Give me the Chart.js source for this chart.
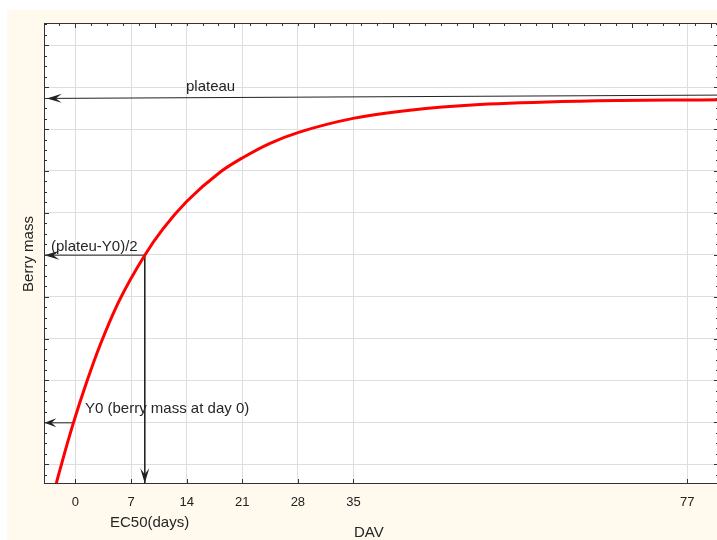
<!DOCTYPE html>
<html>
<head>
<meta charset="utf-8">
<script src="https://cdn.jsdelivr.net/npm/chart.js@4/dist/chart.umd.min.js"></script>
<style>
html, body { margin: 0; padding: 0; background: #fff; overflow: hidden; }
#wrap { position: absolute; left: 0; top: 0; width: 722px; height: 540px; }
</style>
</head>
<body>
<div id="wrap"><canvas id="chart" width="722" height="540"></canvas></div>
<script>
// x axis (DAV) labelled ticks and y gridlines
const xTicks = [0, 7, 14, 21, 28, 35, 77];
const yGrid = [1, 2, 3, 4, 5, 6, 7, 8, 9, 10, 11];

// berry mass curve
const curveX = [-2.4, -1.3, -0.25, 1.4, 3.1, 5.4, 8.73, 11, 14, 18.2, 21, 24.5, 28.1, 35.1, 42.1, 50.9, 63.5, 81];
const curveY = [0.55, 1.31, 1.99, 2.95, 3.84, 4.86, 5.99, 6.61, 7.27, 7.97, 8.31, 8.66, 8.92, 9.26, 9.45, 9.585, 9.665, 9.70];

// annotation arrows (start -> tip)
const plateauX = [81, -3.6];
const plateauY = [9.81, 9.73];
const halfX = [8.73, -3.9];
const halfY = [5.99, 5.99];
const ec50X = [8.73, 8.73];
const ec50Y = [5.99, 0.55];
const y0X = [-0.25, -3.9];
const y0Y = [1.99, 1.99];

const pts = (xs, ys) => xs.map((x, i) => ({ x: x, y: ys[i] }));
const font = 'Liberation Sans, Arial, sans-serif';

function arrowSet(xs, ys, len) {
    return {
        data: pts(xs, ys),
        borderColor: '#222',
        borderWidth: 1,
        pointRadius: 0,
        tension: 0,
        clip: false,
        arrowLen: len
    };
}

const frame = {
    id: 'frame',
    beforeDraw(chart) {
        const ctx = chart.ctx, a = chart.chartArea;
        ctx.save();
        ctx.fillStyle = '#fff9ee';
        ctx.fillRect(7, 10, chart.width - 7, chart.height - 10);
        ctx.fillStyle = '#fff';
        ctx.fillRect(a.left, a.top, a.right - a.left, a.bottom - a.top);
        ctx.restore();
    },
    afterDatasetsDraw(chart) {
        const ctx = chart.ctx;
        chart.data.datasets.forEach((ds, i) => {
            if (!ds.arrowLen) return;
            const p = chart.getDatasetMeta(i).data;
            const tip = p[p.length - 1], prev = p[p.length - 2];
            const ang = Math.atan2(tip.y - prev.y, tip.x - prev.x);
            const L = ds.arrowLen, W = 4.5;
            ctx.save();
            ctx.translate(tip.x, tip.y);
            ctx.rotate(ang);
            ctx.fillStyle = '#222';
            ctx.beginPath();
            ctx.moveTo(0, 0);
            ctx.lineTo(-L, -W);
            ctx.lineTo(-L * 0.6, 0);
            ctx.lineTo(-L, W);
            ctx.closePath();
            ctx.fill();
            ctx.restore();
        });
    },
    afterDraw(chart) {
        const ctx = chart.ctx, a = chart.chartArea;
        const x = chart.scales.x, y = chart.scales.y;
        ctx.save();
        ctx.strokeStyle = '#333';
        ctx.lineWidth = 1;
        ctx.beginPath();
        // top and right edges of the box
        ctx.moveTo(a.left, a.top + 0.5);
        ctx.lineTo(a.right, a.top + 0.5);
        ctx.moveTo(a.right - 0.5, a.top);
        ctx.lineTo(a.right - 0.5, a.bottom);
        // inner ticks left/right
        for (let k = Math.ceil(y.min * 4); k <= y.max * 4; k++) {
            const py = Math.round(y.getPixelForValue(k / 4)) + 0.5;
            const len = k % 4 === 0 ? 5 : 3;
            ctx.moveTo(a.left, py); ctx.lineTo(a.left + len, py);
            ctx.moveTo(a.right, py); ctx.lineTo(a.right - len, py);
        }
        // inner ticks top
        for (let v = -2; v <= x.max; v += 2) {
            const px = Math.round(x.getPixelForValue(v)) + 0.5;
            const len = v % 10 === 0 ? 5 : 3;
            ctx.moveTo(px, a.top); ctx.lineTo(px, a.top + len);
        }
        // inner ticks bottom
        xTicks.forEach(v => {
            const px = Math.round(x.getPixelForValue(v)) + 0.5;
            ctx.moveTo(px, a.bottom); ctx.lineTo(px, a.bottom - 4);
        });
        ctx.stroke();

        // texts
        ctx.fillStyle = '#262626';
        ctx.font = '15px ' + font;
        ctx.textBaseline = 'alphabetic';
        ctx.textAlign = 'left';
        ctx.fillText('plateau', 186, 91);
        ctx.fillText('(plateu-Y0)/2', 51, 251);
        ctx.fillText('Y0 (berry mass at day 0)', 85, 413);
        ctx.fillText('EC50(days)', 110, 527);
        ctx.fillText('DAV', 354, 537);
        ctx.translate(33, 254);
        ctx.rotate(-Math.PI / 2);
        ctx.textAlign = 'center';
        ctx.fillText('Berry mass', 0, 0);
        ctx.restore();
    }
};

new Chart(document.getElementById('chart'), {
    type: 'line',
    data: {
        datasets: [
            {
                data: pts(curveX, curveY),
                borderColor: '#ff0000',
                borderWidth: 3,
                pointRadius: 0,
                cubicInterpolationMode: 'monotone'
            },
            arrowSet(plateauX, plateauY, 15),
            arrowSet(halfX, halfY, 15),
            arrowSet(ec50X, ec50Y, 15),
            arrowSet(y0X, y0Y, 12)
        ]
    },
    options: {
        responsive: false,
        animation: false,
        layout: { padding: { top: 23, right: 3, left: 0, bottom: 0 } },
        plugins: { legend: { display: false }, tooltip: { enabled: false } },
        scales: {
            x: {
                type: 'linear',
                min: -3.95,
                max: 81,
                afterBuildTicks: s => { s.ticks = xTicks.map(v => ({ value: v })); },
                afterFit: s => { s.height = 57; },
                grid: { color: '#dedede', drawTicks: false },
                border: { color: '#333' },
                ticks: {
                    font: { family: font, size: 13 },
                    color: '#222',
                    padding: 12,
                    maxRotation: 0,
                    autoSkip: false
                }
            },
            y: {
                type: 'linear',
                min: 0.554,
                max: 11.53,
                afterBuildTicks: s => { s.ticks = yGrid.map(v => ({ value: v })); },
                afterFit: s => { s.width = 44; },
                grid: { color: '#dedede', drawTicks: false },
                border: { color: '#333' },
                ticks: { display: false }
            }
        }
    },
    plugins: [frame]
});
</script>
</body>
</html>
